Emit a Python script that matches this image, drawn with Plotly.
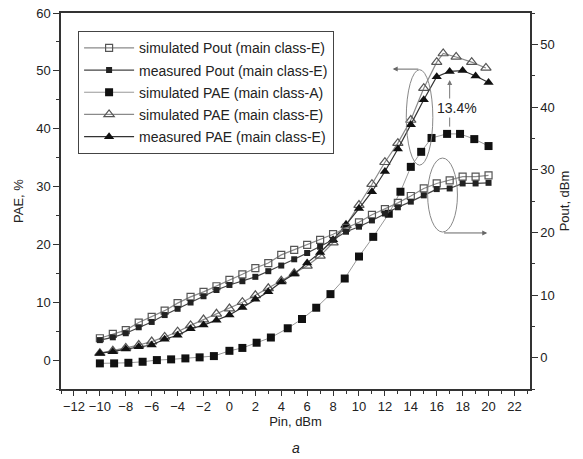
import plotly.graph_objects as go

# ---- data ----
pin_int = [-10, -9, -8, -7, -6, -5, -4, -3, -2, -1, 0, 1, 2, 3, 4, 5, 6, 7, 8, 9, 10,
           11, 12, 13, 14, 15, 16, 17, 18, 19, 20]

sim_pout = [3.1, 3.8, 4.4, 5.6, 6.5, 7.5, 8.7, 9.7, 10.5, 11.4, 12.4, 13.3, 14.3, 15.1, 16.4,
            17.2, 18.0, 18.8, 19.7, 20.7, 21.6, 22.8, 23.7, 24.7, 25.8, 27.0, 27.8, 28.3,
            28.9, 28.9, 29.1]

meas_pout = [2.8, 3.25, 3.9, 4.85, 5.7, 6.8, 7.8, 8.8, 9.8, 10.8, 11.6, 12.2, 12.9, 13.8, 14.7,
             15.7, 16.7, 17.7, 18.8, 20.1, 20.9, 21.9, 23.0, 24.0, 24.9, 25.9, 26.9, 27.0,
             27.8, 27.8, 27.9]

meas_pae = [1.2, 1.45, 1.9, 2.3, 2.6, 3.6, 4.3, 5.4, 6.05, 6.9, 7.8, 9.1, 10.5, 11.8, 13.5,
            14.9, 16.8, 18.6, 20.8, 23.4, 26.2, 29.1, 32.6, 36.5, 40.7, 45.0, 49.0, 49.9,
            50.05, 49.1, 48.0]

pin_classA = [-10, -8.9, -7.8, -6.7, -5.6, -4.5, -3.4, -2.3, -1.2, 0, 1, 2.1, 3.2, 4.5, 5.6,
              6.7, 7.8, 8.9, 10, 11.1, 12.3, 13.2, 14, 14.8, 15.6, 16.8, 17.8, 18.9, 20]
sim_pae_A = [-0.57, -0.57, -0.47, -0.29, 0.0, 0.12, 0.29, 0.47, 0.69, 1.6, 2.1, 3.0, 3.9, 5.5,
             7.1, 9.05, 11.4, 14.1, 17.9, 21.3, 25.3, 29.1, 33.4, 36.0, 38.4, 39.1, 39.1,
             38.2, 37.0]

pin_classE = [-10, -9, -8, -7, -6, -5, -4, -3, -2, -1, 0, 1, 2, 3, 4, 5, 6, 7, 8, 9, 10,
              11, 12, 13, 14, 15, 16, 16.5, 17.5, 18.7, 19.8]
sim_pae_E = [1.2, 1.6, 2.1, 2.6, 3.2, 4.0, 4.9, 6.0, 7.0, 8.0, 8.9, 10.0, 11.2, 12.4, 13.7,
             15.0, 16.3, 18.0, 20.3, 23.3, 26.8, 30.4, 34.2, 37.5, 41.5, 47.0, 51.5, 53.0,
             52.4, 51.5, 50.5]

x_ticks = list(range(-12, 23, 2))
pae_ticks = [0, 10, 20, 30, 40, 50, 60]
pout_ticks = [0, 10, 20, 30, 40, 50]

FONT = "Liberation Sans, Arial, Helvetica, sans-serif"

fig = go.Figure()

fig.add_trace(go.Scatter(
    x=pin_int, y=sim_pout, yaxis="y2", name="simulated Pout (main class-E)", legendgroup="g1",
    mode="lines+markers", line=dict(color="#8a8a8a", width=1.2),
    marker=dict(symbol="square-open", size=7, color="#555555", line=dict(width=1.2))))
fig.add_trace(go.Scatter(
    x=pin_int, y=meas_pout, yaxis="y2", name="measured Pout (main class-E)", legendgroup="g2",
    mode="lines+markers", line=dict(color="#444444", width=1.2),
    marker=dict(symbol="square", size=6, color="#222222")))
fig.add_trace(go.Scatter(
    x=pin_classA, y=sim_pae_A, name="simulated PAE (main class-A)", legendgroup="g3",
    mode="lines+markers", line=dict(color="#999999", width=1),
    marker=dict(symbol="square", size=8, color="#111111")))
fig.add_trace(go.Scatter(
    x=pin_classE, y=sim_pae_E, name="simulated PAE (main class-E)", legendgroup="g4",
    mode="lines+markers", line=dict(color="#8a8a8a", width=1.2),
    marker=dict(symbol="triangle-up-open", size=9, color="#555555", line=dict(width=1.2))))
fig.add_trace(go.Scatter(
    x=pin_int, y=meas_pae, name="measured PAE (main class-E)", legendgroup="g5",
    mode="lines+markers", line=dict(color="#333333", width=1.2),
    marker=dict(symbol="triangle-up", size=9, color="#111111")))

# annotation shapes
fig.add_shape(type="circle", xref="x", yref="y", x0=13.65, x1=15.7, y0=33.7, y1=50.2,
              line=dict(color="#888888", width=1))
fig.add_shape(type="circle", xref="x", yref="y2", x0=15.3, x1=17.6, y0=20.05, y1=31.85,
              line=dict(color="#888888", width=1))

fig.add_annotation(x=12.6, y=50.3, ax=14.7, ay=50.3, xref="x", yref="y", axref="x", ayref="y",
                   showarrow=True, arrowhead=2, arrowsize=1, arrowwidth=1, arrowcolor="#666666",
                   text="")
fig.add_annotation(x=19.9, y=19.9, ax=16.45, ay=19.9, xref="x", yref="y2", axref="x", ayref="y2",
                   showarrow=True, arrowhead=2, arrowsize=1, arrowwidth=1, arrowcolor="#666666",
                   text="")
fig.add_annotation(x=17.0, y=48.4, ax=17.0, ay=40.1, xref="x", yref="y", axref="x", ayref="y",
                   showarrow=True, arrowhead=2, arrowsize=1, arrowwidth=1, arrowcolor="#777777",
                   text="")
fig.add_annotation(x=17.55, y=43.6, xref="x", yref="y", text="13.4%", showarrow=False,
                   font=dict(family=FONT, size=14, color="#222222"), bgcolor="white")
fig.add_annotation(x=0.5, y=-0.157, xref="paper", yref="paper", text="<i>a</i>", showarrow=False,
                   yanchor="middle", font=dict(family=FONT, size=14, color="#222222"))

axis_common = dict(showline=True, linecolor="#333333", linewidth=1.5, ticks="outside",
                   tickcolor="#333333", showgrid=False, zeroline=False, automargin=False,
                   tickfont=dict(family=FONT, size=13, color="#222222"))

fig.update_layout(
    width=583, height=459,
    margin=dict(l=61, r=53, t=13, b=70),
    plot_bgcolor="white", paper_bgcolor="white",
    font=dict(family=FONT, color="#222222"),
    xaxis=dict(range=[-13, 23.2], tickvals=x_ticks, ticklen=5, mirror=True,
               minor=dict(dtick=1, ticks="outside", ticklen=3, tickcolor="#333333"),
               title=dict(text="Pin, dBm", font=dict(family=FONT, size=13), standoff=4),
               **axis_common),
    yaxis=dict(range=[-5, 60], tickvals=pae_ticks, ticklen=6,
               minor=dict(dtick=5, ticks="outside", ticklen=3, tickcolor="#333333"),
               title=dict(text="PAE, %", font=dict(family=FONT, size=13), standoff=10),
               **axis_common),
    yaxis2=dict(range=[-5, 55], tickvals=pout_ticks, ticklen=6, overlaying="y", side="right",
                minor=dict(dtick=5, ticks="outside", ticklen=3, tickcolor="#333333"),
                title=dict(text="Pout, dBm", font=dict(family=FONT, size=13), standoff=6),
                **axis_common),
    legend=dict(x=0.036, y=0.952, xanchor="left", yanchor="top", bgcolor="white",
                bordercolor="#444444", borderwidth=1.2, itemwidth=50, traceorder="grouped",
                font=dict(family=FONT, size=14, color="#222222"), tracegroupgap=1),
    showlegend=True,
)

fig.write_html("out.html", config={"displayModeBar": False},
               post_script="document.body.style.margin='0';")
